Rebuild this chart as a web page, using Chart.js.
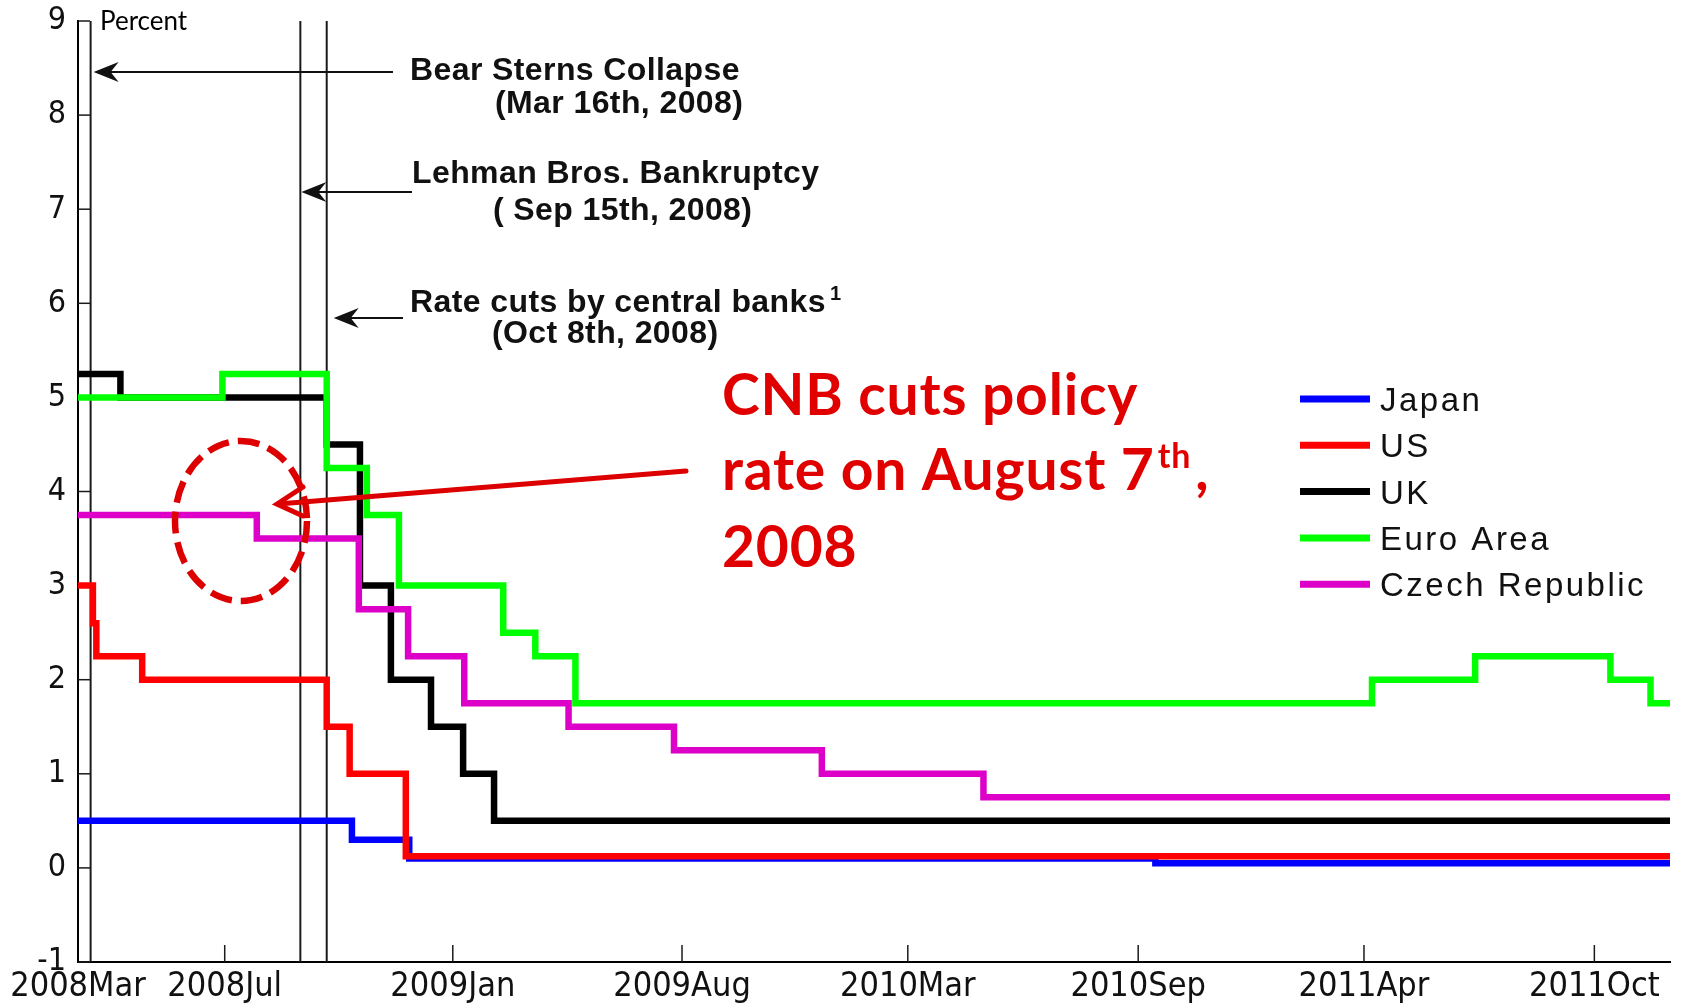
<!DOCTYPE html>
<html lang="en">
<head>
  <meta charset="UTF-8">
  <title>Policy rates 2008-2011</title>
  <script src="https://cdn.jsdelivr.net/npm/chart.js"></script>
  <style>
    html, body { margin: 0; padding: 0; background: #fff; }
    #wrap { width: 1681px; height: 1005px; }
  </style>
</head>
<body>
  <div id="wrap"><canvas id="chart" width="1681" height="1005"></canvas></div>

  <script>
    // x axis (dates)
    const axisStart = '2008-03-05';
    const axisEnd = '2011-12-24';
    const tickDates = ['2008-03-05', '2008-07-11', '2009-01-26', '2009-08-14', '2010-02-27', '2010-09-16', '2011-04-01', '2011-10-19'];
    const tickLabels = ['2008Mar', '2008Jul', '2009Jan', '2009Aug', '2010Mar', '2010Sep', '2011Apr', '2011Oct'];
    const yTicks = [-1, 0, 1, 2, 3, 4, 5, 6, 7, 8, 9];

    // vertical event lines: Bear Stearns, Lehman, coordinated cuts
    const eventDates = ['2008-03-16', '2008-09-15', '2008-10-08'];

    // policy rates, each point = date the new rate starts
    const japanDates = ['2008-03-05', '2008-10-30', '2008-12-19', '2010-10-01', '2011-12-24'];
    const japanRates = [0.5, 0.3, 0.1, 0.05, 0.05];

    const usDates = ['2008-03-05', '2008-03-18', '2008-03-21', '2008-04-30', '2008-10-08', '2008-10-28', '2008-12-16', '2011-12-24'];
    const usRates = [3.0, 2.6, 2.25, 2.0, 1.5, 1.0, 0.125, 0.125];

    const ukDates = ['2008-03-05', '2008-04-11', '2008-10-08', '2008-11-06', '2008-12-03', '2009-01-07', '2009-02-04', '2009-03-03', '2011-12-24'];
    const ukRates = [5.25, 5.0, 4.5, 3.0, 2.0, 1.5, 1.0, 0.5, 0.5];

    const euroDates = ['2008-03-05', '2008-07-09', '2008-10-08', '2008-11-12', '2008-12-10', '2009-03-11', '2009-04-08', '2009-05-13', '2011-04-08', '2011-07-07', '2011-11-02', '2011-12-07', '2011-12-24'];
    const euroRates = [5.0, 5.25, 4.25, 3.75, 3.0, 2.5, 2.25, 1.75, 2.0, 2.25, 2.0, 1.75, 1.75];

    const czDates = ['2008-03-05', '2008-08-08', '2008-11-05', '2008-12-18', '2009-02-05', '2009-05-07', '2009-08-07', '2009-12-14', '2010-05-04', '2011-12-24'];
    const czRates = [3.75, 3.5, 2.75, 2.25, 1.75, 1.5, 1.25, 1.0, 0.75, 0.75];

    const axisFont = '"Liberation Sans Narrow", "DejaVu Sans Condensed", "Liberation Sans", sans-serif';

    // days since axis start
    function day(s) {
      const p = s.split('-').map(Number);
      const q = axisStart.split('-').map(Number);
      return (Date.UTC(p[0], p[1] - 1, p[2]) - Date.UTC(q[0], q[1] - 1, q[2])) / 864e5;
    }

    function points(dates, rates) {
      return dates.map((d, i) => ({ x: day(d), y: rates[i] }));
    }

    const series = [
      { label: 'Japan', color: '#0000ff', data: points(japanDates, japanRates) },
      { label: 'US', color: '#ff0000', data: points(usDates, usRates) },
      { label: 'UK', color: '#000000', data: points(ukDates, ukRates) },
      { label: 'Euro Area', color: '#00ff00', data: points(euroDates, euroRates) },
      { label: 'Czech Republic', color: '#dc00c8', data: points(czDates, czRates) }
    ];

    function line(ctx, x1, y1, x2, y2) {
      ctx.beginPath();
      ctx.moveTo(x1, y1);
      ctx.lineTo(x2, y2);
      ctx.stroke();
    }

    // black dart arrow pointing left
    function dartArrow(ctx, tipX, y, endX) {
      ctx.lineWidth = 2.2;
      line(ctx, tipX + 12, y, endX, y);
      ctx.beginPath();
      ctx.moveTo(tipX, y);
      ctx.lineTo(tipX + 25, y - 10);
      ctx.lineTo(tipX + 17, y);
      ctx.lineTo(tipX + 25, y + 10);
      ctx.closePath();
      ctx.fill();
    }

    const decor = {
      id: 'decor',
      beforeDatasetsDraw(chart) {
        const { ctx, chartArea: a, scales: { x, y } } = chart;
        ctx.save();
        ctx.strokeStyle = '#1a1a1a';
        ctx.lineWidth = 2;
        eventDates.forEach(d => {
          const px = x.getPixelForValue(day(d));
          line(ctx, px, a.top, px, a.bottom);
        });
        ctx.lineWidth = 1.5;
        yTicks.forEach(v => {
          const py = y.getPixelForValue(v);
          line(ctx, a.left, py, a.left + 12, py);
        });
        tickDates.slice(1).forEach(d => {
          const px = x.getPixelForValue(day(d));
          line(ctx, px, a.bottom, px, a.bottom - 17);
        });
        ctx.restore();
      },
      afterDatasetsDraw(chart) {
        const { ctx, scales: { x } } = chart;
        ctx.save();

        // "Percent"
        ctx.fillStyle = '#000';
        ctx.font = '26px Lato, "Liberation Sans", sans-serif';
        ctx.fillText('Percent', 100, 30);

        // event labels
        ctx.fillStyle = '#111';
        ctx.font = 'bold 32px "Liberation Sans", Arial, sans-serif';
        ctx.letterSpacing = '0.4px';
        ctx.fillText('Bear Sterns Collapse', 410, 80);
        ctx.fillText('(Mar 16th, 2008)', 495, 113);
        ctx.fillText('Lehman Bros. Bankruptcy', 412, 183);
        ctx.fillText('( Sep 15th, 2008)', 493, 220);
        ctx.fillText('Rate cuts by central banks', 410, 312);
        const w = ctx.measureText('Rate cuts by central banks').width;
        ctx.font = 'bold 20px "Liberation Sans", Arial, sans-serif';
        ctx.fillText('1', 410 + w + 4, 300);
        ctx.font = 'bold 32px "Liberation Sans", Arial, sans-serif';
        ctx.fillText('(Oct 8th, 2008)', 492, 343);
        ctx.letterSpacing = '0px';

        ctx.strokeStyle = '#111';
        const ev = eventDates.map(d => x.getPixelForValue(day(d)));
        dartArrow(ctx, ev[0] + 3, 72, 393);
        dartArrow(ctx, ev[1] + 1, 192, 412);
        dartArrow(ctx, ev[2] + 7, 318, 403);

        // legend
        ctx.font = '33px "Liberation Sans", Arial, sans-serif';
        ctx.letterSpacing = '2.5px';
        series.forEach((s, i) => {
          const ly = 399 + i * 46.3;
          ctx.strokeStyle = s.color;
          ctx.lineWidth = 7;
          line(ctx, 1300, ly, 1370, ly);
          ctx.fillStyle = '#111';
          ctx.fillText(s.label, 1380, ly + 12);
        });
        ctx.letterSpacing = '0px';

        // red annotation
        const red = '#e00000';
        const big = 'bold 57px Lato, "Open Sans", sans-serif';
        ctx.fillStyle = red;
        ctx.font = big;
        ctx.letterSpacing = '0.8px';
        ctx.fillText('CNB cuts policy', 722, 415);
        ctx.fillText('rate on August 7', 722, 490);
        let tx = 722 + ctx.measureText('rate on August 7').width + 3;
        ctx.font = 'bold 34px Lato, "Open Sans", sans-serif';
        ctx.fillText('th', tx, 468);
        tx += ctx.measureText('th').width + 4;
        ctx.font = big;
        ctx.fillText(',', tx, 490);
        ctx.fillText('2008', 722, 567);
        ctx.letterSpacing = '0px';

        ctx.strokeStyle = '#dd0000';
        ctx.lineWidth = 5;
        ctx.lineCap = 'round';
        line(ctx, 686, 471, 278, 504);
        ctx.beginPath();
        ctx.moveTo(303, 487);
        ctx.lineTo(277, 504);
        ctx.lineTo(303, 516);
        ctx.stroke();

        ctx.lineCap = 'butt';
        ctx.lineWidth = 6.5;
        ctx.setLineDash([22, 9]);
        ctx.beginPath();
        ctx.ellipse(241, 521, 66, 80, 0, 0, Math.PI * 2);
        ctx.stroke();
        ctx.restore();
      }
    };

    function drawChart() {
      new Chart(document.getElementById('chart'), {
        type: 'line',
        data: {
          datasets: series.map((s, i) => ({
            label: s.label,
            data: s.data,
            borderColor: s.color,
            borderWidth: 6.5,
            stepped: 'before',
            pointRadius: 0,
            fill: false,
            order: series.length - i
          }))
        },
        options: {
          responsive: false,
          animation: false,
          events: [],
          layout: { padding: { top: 21, right: 11, bottom: 0, left: 0 } },
          plugins: {
            legend: { display: false },
            tooltip: { enabled: false }
          },
          scales: {
            x: {
              type: 'linear',
              min: day(axisStart),
              max: day(axisEnd),
              grid: { display: false, drawTicks: false },
              border: { display: true, color: '#000', width: 2 },
              afterBuildTicks: s => { s.ticks = tickDates.map(d => ({ value: day(d) })); },
              afterFit: s => { s.height = 43; s.paddingLeft = 0; s.paddingRight = 0; },
              ticks: {
                autoSkip: false,
                maxRotation: 0,
                padding: 5,
                color: '#111',
                font: { family: axisFont, size: 34 },
                callback: (v, i) => tickLabels[i]
              }
            },
            y: {
              min: -1,
              max: 9,
              grid: { display: false, drawTicks: false },
              border: { display: true, color: '#000', width: 2 },
              afterBuildTicks: s => { s.ticks = yTicks.map(v => ({ value: v })); },
              afterFit: s => { s.width = 78; s.paddingTop = 0; s.paddingBottom = 0; },
              ticks: {
                padding: 12,
                color: '#111',
                font: { family: axisFont, size: 32 },
                callback: v => String(v)
              }
            }
          }
        },
        plugins: [decor]
      });
    }

    Promise.all([
      document.fonts.load('bold 57px Lato'),
      document.fonts.load('26px Lato'),
      document.fonts.load('33px "Liberation Sans"'),
      document.fonts.load('33px "Liberation Sans Narrow"'),
      document.fonts.load('bold 32px "Liberation Sans"')
    ]).then(drawChart, drawChart);
  </script>
</body>
</html>
